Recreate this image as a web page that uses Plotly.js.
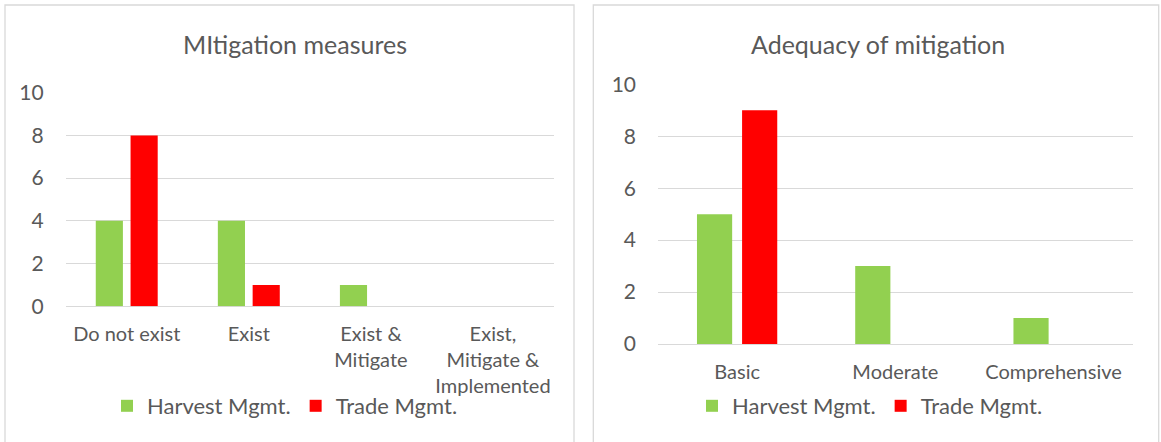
<!DOCTYPE html>
<html>
<head>
<meta charset="utf-8">
<script src="https://cdn.plot.ly/plotly-3.0.1.min.js"></script>
<style>
  html, body { margin: 0; padding: 0; background: #ffffff; }
  #chart { width: 1161px; height: 442px; }
</style>
</head>
<body>
<div id="chart"></div>
<script>
// Left panel: whether mitigation measures exist
const mitigationCategories = ['Do not exist', 'Exist', 'Exist & Mitigate', 'Exist, Mitigate & Implemented'];
const mitigationTickLabels = ['Do not exist', 'Exist', 'Exist &<br>Mitigate', 'Exist,<br>Mitigate &<br>Implemented'];
const mitigationHarvest = [4, 4, 1, 0];
const mitigationTrade = [8, 1, 0, 0];

// Right panel: how adequate the mitigation is
const adequacyCategories = ['Basic', 'Moderate', 'Comprehensive'];
const adequacyHarvest = [5, 3, 1];
const adequacyTrade = [9, 0, 0];

const seriesNames = ['Harvest Mgmt.', 'Trade Mgmt.'];
const panelTitles = ['MItigation measures', 'Adequacy of mitigation'];

const W = 1161, H = 442;
const px = v => v / W;           // pixel x -> paper x
const py = v => 1 - v / H;       // pixel y (from top) -> paper y

const GREEN = '#92d050';
const RED = '#ff0000';
const TEXT = '#595959';
const GRID = '#d9d9d9';
const FONT = 'Lato, "Open Sans", sans-serif';

const traces = [
  { type: 'bar', name: seriesNames[0], x: mitigationCategories, y: mitigationHarvest,
    marker: { color: GREEN }, xaxis: 'x', yaxis: 'y', legend: 'legend', hoverinfo: 'x+y+name' },
  { type: 'bar', name: seriesNames[1], x: mitigationCategories, y: mitigationTrade,
    marker: { color: RED }, xaxis: 'x', yaxis: 'y', legend: 'legend', hoverinfo: 'x+y+name' },
  { type: 'bar', name: seriesNames[0], x: adequacyCategories, y: adequacyHarvest,
    marker: { color: GREEN }, xaxis: 'x2', yaxis: 'y2', legend: 'legend2', hoverinfo: 'x+y+name' },
  { type: 'bar', name: seriesNames[1], x: adequacyCategories, y: adequacyTrade,
    marker: { color: RED }, xaxis: 'x2', yaxis: 'y2', legend: 'legend2', hoverinfo: 'x+y+name' }
];

const yAxisBase = {
  range: [0, 10], dtick: 2, tick0: 0,
  showgrid: true, gridcolor: GRID, gridwidth: 1.3,
  zeroline: true, zerolinecolor: GRID, zerolinewidth: 1.3,
  showline: false, ticks: '', ticklabelstandoff: 21,
  tickfont: { family: FONT, size: 21, color: TEXT },
  fixedrange: true
};
const xAxisBase = {
  type: 'category', showgrid: false, zeroline: false, showline: false,
  ticks: '', ticklabelstandoff: 14,
  tickfont: { family: FONT, size: 20, color: TEXT },
  fixedrange: true
};

const legendBase = {
  orientation: 'h', yanchor: 'middle', xanchor: 'left',
  bgcolor: 'rgba(0,0,0,0)', borderwidth: 0,
  font: { family: FONT, size: 22, color: TEXT },
  itemclick: false, itemdoubleclick: false
};

const layout = {
  width: W, height: H,
  margin: { l: 0, r: 0, t: 0, b: 0, pad: 0 },
  paper_bgcolor: '#ffffff', plot_bgcolor: '#ffffff',
  font: { family: FONT, color: TEXT },
  barmode: 'group', bargap: 0.43, bargroupgap: 0.22,
  xaxis: Object.assign({}, xAxisBase, {
    domain: [px(65.7), px(554)], anchor: 'y',
    tickvals: mitigationCategories, ticktext: mitigationTickLabels
  }),
  yaxis: Object.assign({}, yAxisBase, { domain: [py(306.3), py(92.7)], anchor: 'x' }),
  xaxis2: Object.assign({}, xAxisBase, {
    domain: [px(658), px(1132.7)], anchor: 'y2',
    tickvals: adequacyCategories, ticktext: adequacyCategories
  }),
  yaxis2: Object.assign({}, yAxisBase, { domain: [py(344), py(84.3)], anchor: 'x2' }),
  legend: Object.assign({}, legendBase, { x: px(107), y: py(406) }),
  legend2: Object.assign({}, legendBase, { x: px(692), y: py(406) }),
  annotations: [
    { text: panelTitles[0], xref: 'paper', yref: 'paper', x: px(295), y: py(44),
      xanchor: 'center', yanchor: 'middle', showarrow: false,
      font: { family: FONT, size: 25, color: TEXT } },
    { text: panelTitles[1], xref: 'paper', yref: 'paper', x: px(878), y: py(44),
      xanchor: 'center', yanchor: 'middle', showarrow: false,
      font: { family: FONT, size: 25, color: TEXT } }
  ],
  shapes: [
    // chart-area frames
    { type: 'rect', xref: 'paper', yref: 'paper', layer: 'below',
      x0: px(5), x1: px(574), y0: -0.05, y1: py(5),
      line: { color: GRID, width: 1.3 }, fillcolor: 'rgba(0,0,0,0)' },
    { type: 'rect', xref: 'paper', yref: 'paper', layer: 'below',
      x0: px(593.3), x1: px(1158.7), y0: -0.05, y1: py(5),
      line: { color: GRID, width: 1.3 }, fillcolor: 'rgba(0,0,0,0)' }
  ],
  showlegend: true,
  hovermode: 'closest'
};

Plotly.newPlot('chart', traces, layout, { displayModeBar: false, staticPlot: false, responsive: false });
</script>
</body>
</html>
